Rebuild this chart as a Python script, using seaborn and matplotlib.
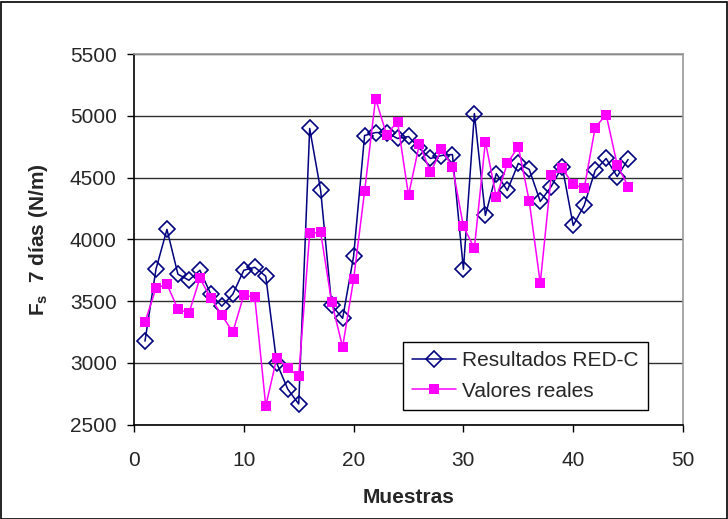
import matplotlib
matplotlib.use("Agg")
import matplotlib.pyplot as plt
import seaborn as sns
import pandas as pd
from matplotlib.patches import Rectangle

muestras = list(range(1, 46))
red_c = [3175, 3757, 4080, 3717, 3668, 3749, 3555, 3458, 3555, 3749,
         3773, 3700, 2997, 2787, 2666, 4897, 4395, 3466, 3360, 3862,
         4840, 4864, 4864, 4816, 4832, 4735, 4654, 4678, 4686, 3757,
         5018, 4193, 4532, 4395, 4614, 4565, 4306, 4427, 4589, 4112,
         4274, 4557, 4654, 4508, 4646]
reales = [3329, 3603, 3636, 3434, 3401, 3684, 3523, 3385, 3248, 3547,
          3531, 2650, 3038, 2957, 2892, 4048, 4056, 3490, 3127, 3676,
          4387, 5139, 4848, 4953, 4355, 4775, 4541, 4727, 4589, 4104,
          3927, 4791, 4339, 4614, 4751, 4306, 3644, 4517, 4573, 4444,
          4411, 4904, 5010, 4605, 4427]
series_names = ["Resultados RED-C", "Valores reales"]
y_ticks = [2500, 3000, 3500, 4000, 4500, 5000, 5500]
x_ticks = [0, 10, 20, 30, 40, 50]

sns.set_style("white")
plt.rcParams['font.family'] = ['Liberation Sans', 'DejaVu Sans']
plt.rcParams['mathtext.fontset'] = 'custom'
plt.rcParams['mathtext.rm'] = 'Liberation Sans'
plt.rcParams['mathtext.bf'] = 'Liberation Sans:bold'

df = pd.DataFrame({"Muestras": muestras, series_names[0]: red_c, series_names[1]: reales})

fig = plt.figure(figsize=(7.28, 5.19), dpi=100)
ax = fig.add_axes([134/728, 1 - 424.5/519, 549/728, 370.5/519])

sns.lineplot(data=df, x="Muestras", y=series_names[0], ax=ax, color="#000080",
             linewidth=1.1, marker="D", markersize=8.5, markerfacecolor="none",
             markeredgecolor="#000080", markeredgewidth=1.2, label=series_names[0], zorder=3)
sns.lineplot(data=df, x="Muestras", y=series_names[1], ax=ax, color="#FF00FF",
             linewidth=1.1, marker="s", markersize=7.5, markerfacecolor="#FF00FF",
             markeredgecolor="#FF00FF", markeredgewidth=0, label=series_names[1], zorder=4)

ax.set_xlim(0, 50)
ax.set_ylim(2500, 5500)
ax.set_xticks(x_ticks)
ax.set_yticks(y_ticks)
ax.yaxis.grid(True, color="#303030", linewidth=1.0)
ax.set_axisbelow(True)
ax.tick_params(axis="both", direction="out", length=5, width=1, color="black",
               labelsize=15, bottom=True, left=True)
ax.tick_params(axis="x", pad=14)
ax.tick_params(axis="y", pad=7.5)
for s in ["left", "bottom"]:
    ax.spines[s].set_color("black")
    ax.spines[s].set_linewidth(1.2)
for s in ["top", "right"]:
    ax.spines[s].set_color("#999999")
    ax.spines[s].set_linewidth(1.2)

ax.set_xlabel("Muestras", fontsize=15, fontweight="bold", labelpad=13)
ax.set_ylabel(r"$\mathbf{F_s}$  7 días (N/m)", fontsize=15, fontweight="bold", labelpad=14)

leg = ax.legend(loc="lower left", bbox_to_anchor=(0.49, 0.039), fontsize=15,
                frameon=True, fancybox=False, framealpha=1, edgecolor="black",
                borderpad=0.45, handlelength=2.1, handletextpad=0.3, labelspacing=0.55,
                borderaxespad=0)
leg.get_frame().set_linewidth(1.0)

fig.patches.append(Rectangle((0.5/728, 0.5/519), 726/728, 517/519, transform=fig.transFigure,
                             fill=False, edgecolor="black", linewidth=1.2))

fig.savefig("out.png", dpi=100)
